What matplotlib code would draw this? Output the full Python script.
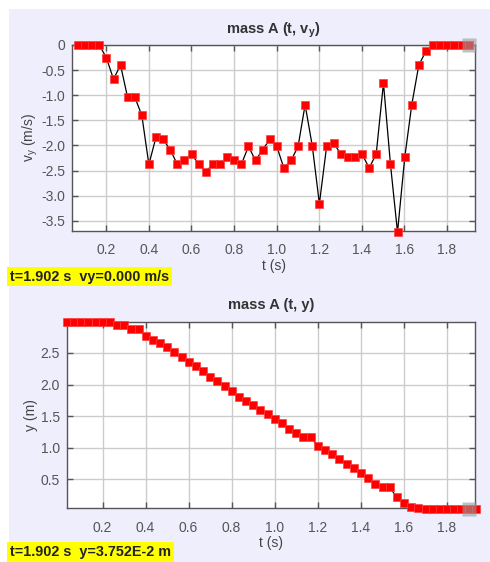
import matplotlib
matplotlib.use("Agg")
import matplotlib.pyplot as plt
from matplotlib.patches import Rectangle

plt.rcParams['font.family'] = ['Liberation Sans', 'DejaVu Sans']
plt.rcParams['mathtext.fontset'] = 'custom'
plt.rcParams['mathtext.rm'] = 'Liberation Sans'
plt.rcParams['mathtext.bf'] = 'Liberation Sans:bold'

# frame times (s), k = 1..58
t = [0.033, 0.067, 0.100, 0.133, 0.167, 0.200, 0.234, 0.267, 0.300, 0.334,
     0.367, 0.400, 0.434, 0.467, 0.501, 0.534, 0.567, 0.601, 0.634, 0.667,
     0.701, 0.734, 0.767, 0.801, 0.834, 0.868, 0.901, 0.934, 0.968, 1.001,
     1.034, 1.068, 1.101, 1.134, 1.168, 1.201, 1.235, 1.268, 1.301, 1.335,
     1.368, 1.401, 1.435, 1.468, 1.502, 1.535, 1.568, 1.602, 1.635, 1.668,
     1.702, 1.735, 1.768, 1.802, 1.835, 1.869, 1.902, 1.935]

# position y (m), k = 1..58
y = [2.99, 2.99, 2.99, 2.99, 2.99, 2.99, 2.99, 2.95, 2.95, 2.874,
     2.874, 2.764, 2.71, 2.66, 2.59, 2.51, 2.44, 2.36, 2.29, 2.21,
     2.12, 2.05, 1.97, 1.895, 1.80, 1.74, 1.67, 1.595, 1.536, 1.46,
     1.39, 1.295, 1.236, 1.163, 1.163, 1.03, 0.958, 0.90, 0.826, 0.747,
     0.674, 0.60, 0.52, 0.426, 0.373, 0.373, 0.22, 0.126, 0.068, 0.045,
     0.039, 0.0375, 0.0375, 0.0375, 0.0375, 0.0375, 0.0375, 0.0375]

# velocity vy (m/s), k = 2..57
vy = [0, 0, 0, 0, -0.25, -0.68, -0.40, -1.04, -1.04, -1.40,
      -2.38, -1.83, -1.88, -2.09, -2.38, -2.30, -2.17, -2.38, -2.52, -2.38,
      -2.38, -2.24, -2.30, -2.38, -2.02, -2.30, -2.09, -1.88, -2.02, -2.45,
      -2.30, -2.02, -1.19, -2.02, -3.16, -2.02, -1.95, -2.17, -2.24, -2.24,
      -2.17, -2.45, -2.17, -0.76, -2.38, -3.73, -2.24, -1.19, -0.40, -0.12,
      0, 0, 0, 0, 0, 0]

t_vy = t[1:57]
cursor_t = 1.902
cursor_vy = 0.0
cursor_y = 0.0375

vy_ticks = [0, -0.5, -1.0, -1.5, -2.0, -2.5, -3.0, -3.5]
vy_ticklabels = ['0', '-0.5', '-1.0', '-1.5', '-2.0', '-2.5', '-3.0', '-3.5']
y_ticks = [0.5, 1.0, 1.5, 2.0, 2.5]
t_ticks = [0.2, 0.4, 0.6, 0.8, 1.0, 1.2, 1.4, 1.6, 1.8]

W, H = 490, 562
fig = plt.figure(figsize=(W / 100, H / 100), dpi=100, facecolor='white')
fig.patches.append(Rectangle((9 / W, 0), 1 - 9 / W, 1 - 9 / H, transform=fig.transFigure,
                             facecolor='#eeeefd', edgecolor='none', zorder=-10))

ax1 = fig.add_axes([72 / W, 1 - 231 / H, 403 / W, 186 / H])
ax2 = fig.add_axes([66.7 / W, 1 - 508 / H, 408.3 / W, 186 / H])


def style(ax):
    ax.set_facecolor('white')
    ax.grid(True, color='#cccccc', linewidth=1.0)
    ax.set_axisbelow(True)
    for s in ax.spines.values():
        s.set_color('#555555')
        s.set_linewidth(1.0)
    ax.tick_params(direction='in', length=4, width=1, color='#555555',
                   top=True, right=True, labelcolor='#555555', labelsize=10)
    ax.tick_params(axis='x', pad=9)
    ax.tick_params(axis='y', pad=5)


def draw(ax, xs, ys, cx, cy):
    ax.plot(xs, ys, color='black', linewidth=0.9, zorder=3, clip_on=False)
    ax.plot(xs, ys, linestyle='none', marker='s', markersize=5.2,
            markerfacecolor='#ff0000', markeredgecolor='#ff4040', markeredgewidth=0.5,
            zorder=4, clip_on=False)
    ax.plot([cx], [cy], linestyle='none', marker='s', markersize=10,
            markerfacecolor='#999999', markeredgecolor='none', alpha=0.6,
            zorder=5, clip_on=False)


style(ax1)
draw(ax1, t_vy, vy, cursor_t, cursor_vy)
ax1.set_xlim(0.039, 1.932)
ax1.set_ylim(-3.705, 0)
ax1.set_xticks(t_ticks)
ax1.set_xticklabels([f'{v:.1f}' for v in t_ticks])
ax1.set_yticks(vy_ticks)
ax1.set_yticklabels(vy_ticklabels)
ax1.set_title(r'mass A (t, $\mathbf{v_y}$)', fontsize=10.5, fontweight='bold',
              color='#333333', pad=8)
ax1.set_xlabel('t (s)', fontsize=10, color='#444444', labelpad=1)
ax1.set_ylabel(r'$\mathrm{v_y}$ (m/s)', fontsize=10, color='#444444', labelpad=1)

style(ax2)
draw(ax2, t, y, cursor_t, cursor_y)
ax2.set_xlim(0.033, 1.932)
ax2.set_ylim(0.047, 2.99)
ax2.set_xticks(t_ticks)
ax2.set_xticklabels([f'{v:.1f}' for v in t_ticks])
ax2.set_yticks(y_ticks)
ax2.set_yticklabels([f'{v:.1f}' for v in y_ticks])
ax2.set_title('mass A (t, y)', fontsize=10.5, fontweight='bold', color='#333333', pad=9)
ax2.set_xlabel('t (s)', fontsize=10, color='#444444', labelpad=1)
ax2.set_ylabel('y (m)', fontsize=10, color='#444444', labelpad=2)

fig.text(10 / W, 1 - 276.5 / H, 't=1.902 s  vy=0.000 m/s', fontsize=10.4, fontweight='bold',
         color='#222222', va='center', ha='left',
         bbox=dict(boxstyle='square,pad=0.18', facecolor='#ffff00', edgecolor='none'))
fig.text(10 / W, 1 - 552 / H, 't=1.902 s  y=3.752E-2 m', fontsize=10.4, fontweight='bold',
         color='#222222', va='center', ha='left',
         bbox=dict(boxstyle='square,pad=0.18', facecolor='#ffff00', edgecolor='none'))

fig.savefig('out.png', dpi=100, facecolor='white')
